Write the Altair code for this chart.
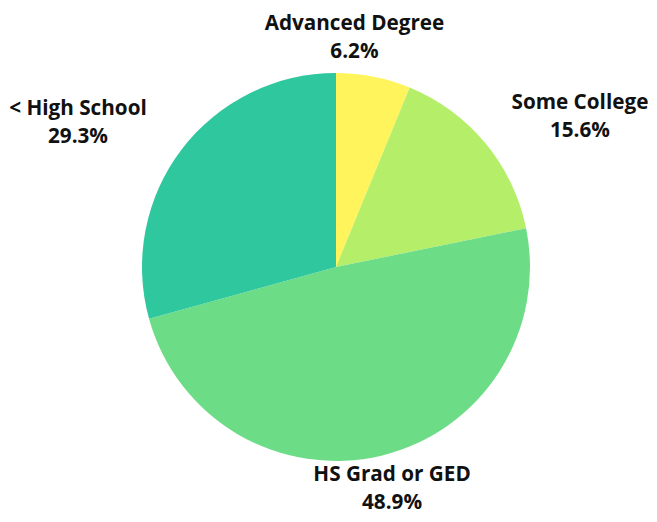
import altair as alt
import pandas as pd

categories = ["Advanced Degree", "Some College", "HS Grad or GED", "< High School"]
shares = [6.2, 15.6, 48.9, 29.3]
colors = ["#FFF45B", "#B5EF6A", "#6CDC87", "#2EC79E"]

rows = []
cum = 0.0
for i, (c, v) in enumerate(zip(categories, shares)):
    mid = cum + v / 2
    cum += v
    ang = mid / 100 * 360
    if 30 < ang < 150:
        side = "left"
    elif 210 < ang < 330:
        side = "right"
    elif ang <= 30 or ang >= 330:
        side = "top"
    else:
        side = "bottom"
    rows.append({"cat": c, "val": v, "idx": i, "mid": mid,
                 "label": f"{c}\n{v:.1f}%", "side": side})
df = pd.DataFrame(rows)

CX, CY = 328, 259
theta_scale = alt.Scale(domain=[0, 100])

base = alt.Chart(df)

pie = base.mark_arc(outerRadius=194, stroke=None).encode(
    theta=alt.Theta("val:Q", stack=True, scale=theta_scale),
    order=alt.Order("idx:O"),
    color=alt.Color("cat:N", scale=alt.Scale(domain=categories, range=colors), legend=None),
    x=alt.value(CX), y=alt.value(CY),
)

offsets = {"left": (59, -11), "right": (-67, -13), "top": (-28, -8), "bottom": (0, -25)}

def text_layer(side):
    dx, dy = offsets[side]
    return base.transform_filter(alt.datum.side == side).mark_text(
        radius=240, align="center", baseline="middle", lineBreak="\n",
        dx=dx, dy=dy,
        font="Open Sans", fontWeight="bold", fontSize=20.7, lineHeight=28, color="#111111",
    ).encode(
        theta=alt.Theta("mid:Q", stack=None, scale=theta_scale),
        text="label:N",
        x=alt.value(CX), y=alt.value(CY),
    )

chart = alt.layer(pie, *[text_layer(s) for s in ["left", "right", "top", "bottom"]]).properties(
    width=641, height=506, autosize=alt.AutoSizeParams(type="none"), padding=0,
).configure_view(stroke=None)

chart.save("out.html", embed_options={"renderer": "svg", "actions": False})
